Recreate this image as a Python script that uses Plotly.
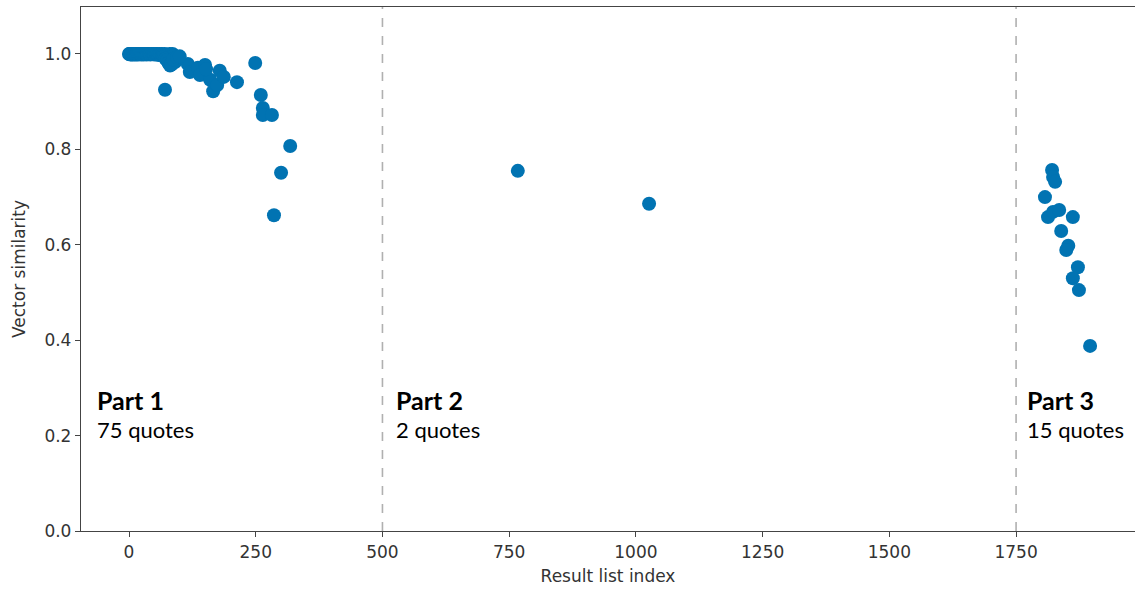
import plotly.graph_objects as go

# Part 1 (75 quotes)
part1_x = [0, 1, 2, 3, 4, 5, 6, 8, 9, 10, 11, 13, 14, 15, 17, 18, 20, 22, 24, 25,
           27, 29, 31, 33, 35, 37, 40, 42, 45, 48, 50, 53, 55, 58, 60, 62, 65, 67, 70, 73,
           76, 80, 83, 86, 88, 72, 75, 78, 81, 91, 84, 87, 71,
           116, 120, 136, 150, 140, 160, 166, 174, 179, 187, 213, 249, 260, 264, 264, 282,
           318, 300, 286, 152, 95, 100]
part1_y = [1.0, 1.0, 1.0, 0.999, 1.0, 1.0, 0.999, 1.0, 1.0, 0.999, 1.0, 1.0, 0.999, 1.0, 1.0, 0.999, 1.0, 1.0, 0.999, 1.0,
           1.0, 0.999, 1.0, 1.0, 0.999, 1.0, 1.0, 0.999, 1.0, 1.0, 0.999, 1.0, 1.0, 0.998, 1.0, 0.999, 1.0, 0.998, 1.0, 0.999,
           0.998, 1.0, 0.999, 1.0, 0.997, 0.99, 0.987, 0.981, 0.976, 0.983, 0.978, 0.989, 0.925,
           0.979, 0.962, 0.971, 0.977, 0.956, 0.946, 0.922, 0.935, 0.965, 0.952, 0.941, 0.981, 0.914, 0.887, 0.872, 0.872,
           0.807, 0.751, 0.662, 0.968, 0.993, 0.995]

# Part 2 (2 quotes)
part2_x = [767, 1026]
part2_y = [0.755, 0.686]

# Part 3 (15 quotes)
part3_x = [1821, 1823, 1827, 1807, 1813, 1823, 1835, 1862, 1839, 1853, 1849, 1872, 1862, 1874, 1896]
part3_y = [0.757, 0.742, 0.732, 0.700, 0.658, 0.669, 0.673, 0.658, 0.629, 0.598, 0.589, 0.553, 0.530, 0.505, 0.388]

boundaries = [500, 1750]
labels_x = [-68, 522, 1768]
label_titles = ["Part 1", "Part 2", "Part 3"]
label_counts = ["75 quotes", "2 quotes", "15 quotes"]

x_ticks = [0, 250, 500, 750, 1000, 1250, 1500, 1750]
y_ticks = [0.0, 0.2, 0.4, 0.6, 0.8, 1.0]

color = "#0173B2"

fig = go.Figure()
all_x = part1_x + part2_x + part3_x
all_y = part1_y + part2_y + part3_y
fig.add_trace(go.Scatter(x=all_x, y=all_y, mode="markers",
                         marker=dict(color=color, size=14, line=dict(width=0)),
                         showlegend=False, hoverinfo="x+y"))

for b in boundaries:
    fig.add_shape(type="line", x0=b, x1=b, y0=0, y1=1, yref="paper", xref="x",
                  line=dict(color="#b0b0b0", width=1.6, dash="dash"), layer="below")

for lx, t, c in zip(labels_x, label_titles, label_counts):
    fig.add_annotation(x=lx, y=0.275, xref="x", yref="y", text="<b>" + t + "</b>",
                       showarrow=False, xanchor="left", yanchor="middle",
                       font=dict(family="Lato, Open Sans, sans-serif", size=25, color="black"))
    fig.add_annotation(x=lx, y=0.213, xref="x", yref="y", text=c,
                       showarrow=False, xanchor="left", yanchor="middle",
                       font=dict(family="Lato, Open Sans, sans-serif", size=22, color="black"))

axis_font = dict(family="DejaVu Sans, sans-serif", size=17, color="#333333")
fig.update_layout(
    width=1135, height=590,
    margin=dict(l=81, r=0, t=7, b=59),
    plot_bgcolor="white", paper_bgcolor="white",
    xaxis=dict(range=[-94.7, 1984.6], tickvals=x_ticks, ticktext=[str(v) for v in x_ticks],
               showgrid=False, zeroline=False, showline=True, mirror=True,
               linecolor="#444444", linewidth=1.3, ticks="outside", ticklen=5,
               tickcolor="#444444", tickfont=axis_font, automargin=False,
               title=dict(text="Result list index", font=axis_font, standoff=9)),
    yaxis=dict(range=[0, 1.0985], tickvals=y_ticks, ticktext=["%.1f" % v for v in y_ticks],
               showgrid=False, zeroline=False, showline=True,
               linecolor="#444444", linewidth=1.3, ticks="outside", ticklen=5,
               tickcolor="#444444", tickfont=axis_font, automargin=False,
               title=dict(text="Vector similarity", font=axis_font, standoff=14)),
)

fig.write_html("out.html", config={"displayModeBar": False},
               post_script="document.body.style.margin='0';")
